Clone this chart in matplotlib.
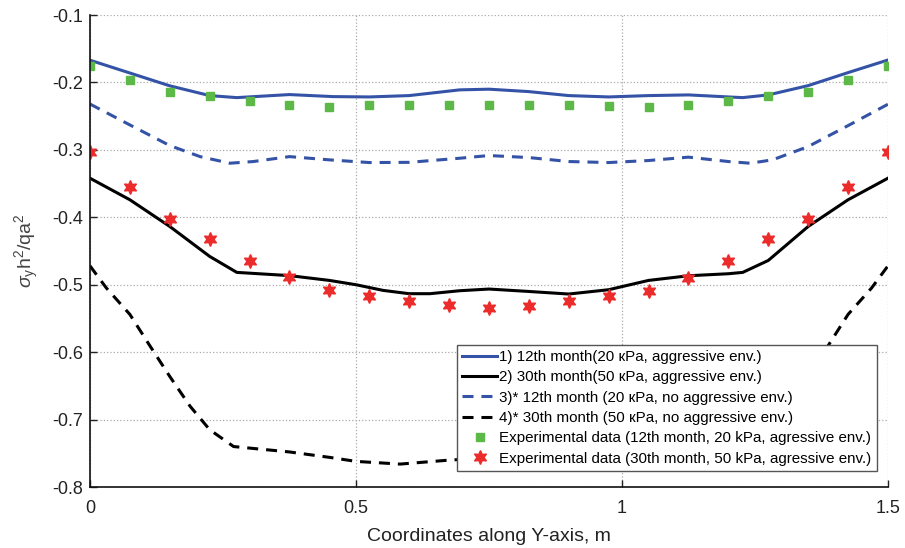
import matplotlib
matplotlib.use("Agg")
import matplotlib.pyplot as plt

plt.rcParams["font.family"] = ["Liberation Sans", "DejaVu Sans"]
plt.rcParams["axes.unicode_minus"] = False
plt.rcParams["mathtext.fontset"] = "custom"
plt.rcParams["mathtext.rm"] = "Liberation Sans"
plt.rcParams["mathtext.it"] = "Liberation Sans:italic"

# 1) 12th month, aggressive env. (solid blue)
x_blue = [0, 0.075, 0.15, 0.225, 0.276, 0.375, 0.457, 0.525, 0.6, 0.695, 0.75,
          0.825, 0.9, 0.975, 1.05, 1.125, 1.2, 1.227, 1.275, 1.35, 1.425, 1.5]
y_blue = [-0.167, -0.186, -0.205, -0.2195, -0.2225, -0.218, -0.221, -0.2215,
          -0.2195, -0.211, -0.210, -0.2136, -0.2195, -0.2215, -0.2195, -0.2185,
          -0.2215, -0.2225, -0.2185, -0.2047, -0.1854, -0.1667]

# 2) 30th month, aggressive env. (solid black)
x_black = [0, 0.075, 0.15, 0.225, 0.276, 0.375, 0.45, 0.5, 0.551, 0.6, 0.639,
           0.695, 0.75, 0.825, 0.9, 0.975, 1.05, 1.125, 1.2, 1.227, 1.275,
           1.35, 1.425, 1.5]
y_black = [-0.342, -0.374, -0.4136, -0.458, -0.4817, -0.4865, -0.4936, -0.500,
           -0.5084, -0.5133, -0.5133, -0.5089, -0.5064, -0.510, -0.5138,
           -0.5074, -0.4936, -0.4867, -0.4837, -0.4817, -0.464, -0.4136,
           -0.374, -0.342]

# 3)* 12th month, no aggressive env. (dashed blue)
x_blue_d = [0, 0.075, 0.15, 0.207, 0.263, 0.307, 0.375, 0.45, 0.525, 0.6,
            0.695, 0.75, 0.825, 0.9, 0.975, 1.05, 1.125, 1.2, 1.241, 1.283,
            1.35, 1.425, 1.5]
y_blue_d = [-0.232, -0.263, -0.2936, -0.310, -0.3198, -0.3173, -0.310, -0.3148,
            -0.3188, -0.3185, -0.3124, -0.3084, -0.3114, -0.3173, -0.3188,
            -0.3158, -0.3108, -0.3173, -0.3198, -0.3148, -0.2951, -0.264,
            -0.2323]

# 4)* 30th month, no aggressive env. (dashed black)
x_black_d = [0, 0.031, 0.075, 0.113, 0.15, 0.188, 0.225, 0.27, 0.375, 0.45,
             0.5, 0.583, 0.677, 0.75, 0.823, 0.917, 1.0, 1.05, 1.125, 1.23,
             1.275, 1.312, 1.35, 1.387, 1.425, 1.469, 1.5]
y_black_d = [-0.472, -0.505, -0.544, -0.591, -0.636, -0.680, -0.715, -0.740,
             -0.748, -0.756, -0.762, -0.766, -0.760, -0.757, -0.760, -0.766,
             -0.762, -0.756, -0.748, -0.740, -0.715, -0.680, -0.636, -0.591,
             -0.544, -0.505, -0.472]

# experimental points
x_exp = [0, 0.075, 0.15, 0.225, 0.3, 0.375, 0.45, 0.525, 0.6, 0.675, 0.75,
         0.825, 0.9, 0.975, 1.05, 1.125, 1.2, 1.275, 1.35, 1.425, 1.5]
y_exp12 = [-0.175, -0.196, -0.214, -0.220, -0.227, -0.234, -0.236, -0.234,
           -0.233, -0.234, -0.234, -0.234, -0.233, -0.235, -0.236, -0.234,
           -0.228, -0.220, -0.214, -0.197, -0.175]
y_exp30 = [-0.3035, -0.355, -0.403, -0.432, -0.465, -0.489, -0.508, -0.517,
           -0.524, -0.530, -0.534, -0.531, -0.524, -0.517, -0.509, -0.490,
           -0.465, -0.432, -0.402, -0.355, -0.3035]

labels = [
    "1) 12th month(20 \u043aPa, aggressive env.)",
    "2) 30th month(50 \u043aPa, aggressive env.)",
    "3)* 12th month (20 \u043aPa, no aggressive env.)",
    "4)* 30th month (50 \u043aPa, no aggressive env.)",
    "Experimental data (12th month, 20 kPa, agressive env.)",
    "Experimental data (30th month, 50 kPa, agressive env.)",
]

x_ticks = [0, 0.5, 1, 1.5]
x_ticklabels = ["0", "0.5", "1", "1.5"]
y_ticks = [-0.8, -0.7, -0.6, -0.5, -0.4, -0.3, -0.2, -0.1]
y_ticklabels = ["-0.8", "-0.7", "-0.6", "-0.5", "-0.4", "-0.3", "-0.2", "-0.1"]

BLUE = "#3553a6"
GREEN = "#5cb947"
RED = "#ec2b2b"
LW = 2.2
DASH = (3.6, 2.6)


def main():
    fig = plt.figure(figsize=(9.05, 5.48), dpi=100)
    ax = fig.add_axes([0.0994, 0.1113, 0.8818, 0.8613])

    ax.plot(x_blue, y_blue, color=BLUE, lw=LW, label=labels[0])
    ax.plot(x_black, y_black, color="black", lw=LW, label=labels[1])
    ax.plot(x_blue_d, y_blue_d, color=BLUE, lw=LW, dashes=DASH, label=labels[2])
    ax.plot(x_black_d, y_black_d, color="black", lw=LW, dashes=DASH,
            label=labels[3])
    ax.plot(x_exp, y_exp12, ls="none", marker="s", ms=6.4, color=GREEN,
            mec=GREEN, label=labels[4])
    ax.plot(x_exp, y_exp30, ls="none", marker=(6, 1, 0), ms=10, color=RED,
            mec=RED, label=labels[5])

    ax.set_xlim(0, 1.5)
    ax.set_ylim(-0.8, -0.1)
    ax.set_xticks(x_ticks)
    ax.set_xticklabels(x_ticklabels)
    ax.set_yticks(y_ticks)
    ax.set_yticklabels(y_ticklabels)
    ax.tick_params(direction="in", length=5, width=1, labelsize=13,
                   colors="#222222")
    ax.tick_params(axis="x", pad=9)
    ax.tick_params(axis="y", pad=5)

    for side in ["top", "right"]:
        ax.spines[side].set_visible(False)
    for side in ["left", "bottom"]:
        ax.spines[side].set_linewidth(1.2)
        ax.spines[side].set_color("#111111")

    ax.grid(True, ls=":", color="#aaaaaa", lw=0.9)
    ax.set_axisbelow(True)

    ax.set_xlabel("Coordinates along Y-axis, m", fontsize=14, color="#222222",
                  labelpad=8)
    ax.set_ylabel(r"$\sigma_{\rm y}$h$^2$/qa$^2$", fontsize=14,
                  color="#444444", labelpad=8)

    leg = ax.legend(loc="lower right", bbox_to_anchor=(0.986, 0.034),
                    fontsize=10.9, frameon=True, fancybox=False,
                    edgecolor="#555555", framealpha=1, borderpad=0.35,
                    labelspacing=0.42, handlelength=2.3, handletextpad=0.15,
                    borderaxespad=0, numpoints=1)
    leg.get_frame().set_linewidth(1.0)
    leg.set_zorder(5)

    fig.savefig("out.png", dpi=100)


if __name__ == "__main__":
    main()
